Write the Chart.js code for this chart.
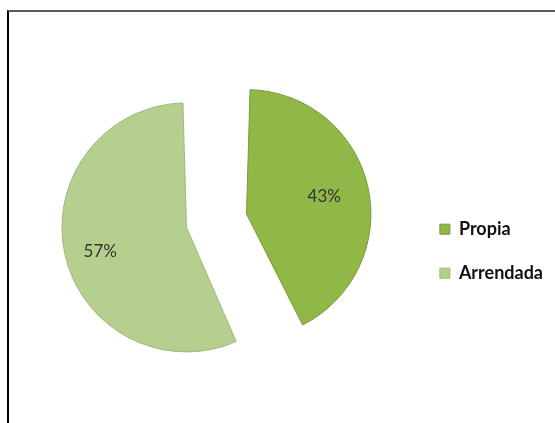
<!DOCTYPE html>
<html>
<head>
<meta charset="utf-8">
<script src="https://cdn.jsdelivr.net/npm/chart.js@4/dist/chart.umd.min.js"></script>
<style>
  html, body { margin: 0; padding: 0; background: #fff; }
  #wrap { position: relative; width: 555px; height: 423px; }
  #frame { position: absolute; left: 7px; top: 10px; right: 0; bottom: 0;
           border-top: 2px solid #5a5a5a; border-left: 2px solid #000; }
  canvas { position: absolute; left: 0; top: 0; }
</style>
</head>
<body>
<div id="wrap">
  <div id="frame"></div>
  <canvas id="c" width="555" height="423"></canvas>
</div>
<script>
const categories = ['Propia', 'Arrendada'];
const values = [43, 57];
const valueLabels = ['43%', '57%'];
const sliceColors = ['#91b746', '#b5d08e'];
const labelDepth = [0.64, 0.71];

const labelPlugin = {
  id: 'sliceLabels',
  afterDatasetsDraw(chart) {
    const ctx = chart.ctx;
    const meta = chart.getDatasetMeta(0);
    ctx.save();
    ctx.font = '17px Lato';
    ctx.fillStyle = '#333';
    ctx.textAlign = 'center';
    ctx.textBaseline = 'middle';
    meta.data.forEach((arc, i) => {
      const p = arc.getProps(['x', 'y', 'startAngle', 'endAngle', 'outerRadius', 'circumference']);
      const mid = (p.startAngle + p.endAngle) / 2;
      const off = arc.options.offset / 4;
      const fix = 1 - Math.sin(Math.min(Math.PI, p.circumference));
      const rEff = p.outerRadius + off * fix;
      const d = off + rEff * labelDepth[i];
      ctx.fillText(valueLabels[i], p.x + Math.cos(mid) * d, p.y + Math.sin(mid) * d + (i === 1 ? 5 : 0));
    });
    ctx.restore();
  }
};

new Chart(document.getElementById('c'), {
  type: 'pie',
  data: {
    labels: categories,
    datasets: [{
      data: values,
      backgroundColor: sliceColors,
      borderColor: ['#78993a', '#9db876'],
      borderWidth: 1,
      offset: [156, 90],
      hoverOffset: [156, 90]
    }]
  },
  options: {
    responsive: false,
    animation: false,
    radius: 102,
    layout: { padding: { left: 3, right: 2, top: 33, bottom: 11 } },
    plugins: {
      tooltip: { enabled: false },
      legend: {
        position: 'right',
        align: 'center',
        title: { display: true, text: ' ', padding: { top: 0, bottom: 43 } },
        labels: {
          boxWidth: 10, boxHeight: 10,
          color: '#111',
          padding: 26,
          font: { family: 'Lato', size: 18, weight: 'bold' }
        }
      }
    }
  },
  plugins: [labelPlugin]
});
</script>
</body>
</html>
